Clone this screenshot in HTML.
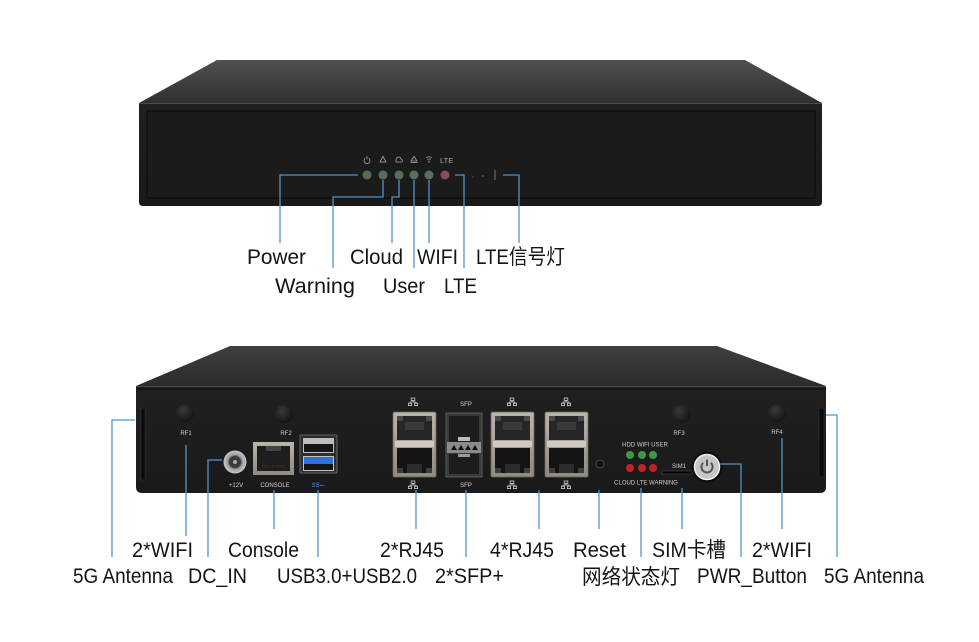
<!DOCTYPE html>
<html><head><meta charset="utf-8"><style>
html,body{margin:0;padding:0;background:#fff;}
svg{display:block;}
</style></head><body>
<svg width="979" height="642" viewBox="0 0 979 642" xmlns="http://www.w3.org/2000/svg">
<defs>
  <linearGradient id="topA" x1="0" y1="0" x2="0" y2="1">
    <stop offset="0" stop-color="#515151"/><stop offset="1" stop-color="#2f2f2f"/>
  </linearGradient>
  <linearGradient id="topB" x1="0" y1="0" x2="0" y2="1">
    <stop offset="0" stop-color="#3f3f3f"/><stop offset="1" stop-color="#2b2b2b"/>
  </linearGradient>
  <linearGradient id="face" x1="0" y1="0" x2="0" y2="1">
    <stop offset="0" stop-color="#202020"/><stop offset="1" stop-color="#1a1a1a"/>
  </linearGradient>
  <linearGradient id="silver" x1="0" y1="0" x2="0" y2="1">
    <stop offset="0" stop-color="#b9b5ad"/><stop offset="1" stop-color="#8f8b84"/>
  </linearGradient>
  <radialGradient id="knob" cx="0.4" cy="0.35" r="0.7">
    <stop offset="0" stop-color="#3a3a3a"/><stop offset="1" stop-color="#121212"/>
  </radialGradient>
  <radialGradient id="dc" cx="0.5" cy="0.5" r="0.5">
    <stop offset="0" stop-color="#555"/><stop offset="0.6" stop-color="#9a9a9a"/><stop offset="1" stop-color="#c8c8c8"/>
  </radialGradient>
  <g id="net">
    <rect x="-1.8" y="-4" width="3.6" height="2.4" fill="none" stroke="#cfcfcf" stroke-width="0.8"/>
    <path d="M0,-1.6 V0 M-3,0 H3 M-3,0 V1.2 M3,0 V1.2" stroke="#cfcfcf" stroke-width="0.8" fill="none"/>
    <rect x="-4.6" y="1.2" width="3.2" height="2.4" fill="none" stroke="#cfcfcf" stroke-width="0.8"/>
    <rect x="1.4" y="1.2" width="3.2" height="2.4" fill="none" stroke="#cfcfcf" stroke-width="0.8"/>
  </g>
  <g id="rj">
    <rect x="0" y="0" width="43" height="65" rx="1.5" fill="url(#silver)"/>
    <rect x="0" y="0" width="43" height="65" rx="1.5" fill="none" stroke="#6b675f" stroke-width="0.8"/>
    <rect x="4" y="4" width="35" height="24" fill="#262626"/>
    <rect x="4" y="4" width="6" height="5" fill="#4a4a4a"/>
    <rect x="33" y="4" width="6" height="5" fill="#4a4a4a"/>
    <rect x="12" y="10" width="19" height="8" fill="#3a3a3a"/>
    <rect x="2" y="29" width="39" height="6" fill="#cfcbc3"/>
    <rect x="4" y="36" width="35" height="25" fill="#141414"/>
    <rect x="14" y="52" width="15" height="9" fill="#2c2c2c"/>
    <rect x="4" y="56" width="6" height="5" fill="#3d3d3d"/>
    <rect x="33" y="56" width="6" height="5" fill="#3d3d3d"/>
  </g>
</defs>

<rect width="979" height="642" fill="#fff"/>

<!-- ============ TOP DEVICE ============ -->
<polygon points="217,60 745,60 822,103 139,103" fill="url(#topA)"/>
<path d="M139,103 H822 V202 Q822,206 818,206 H143 Q139,206 139,202 Z" fill="url(#face)"/>
<line x1="139" y1="103.5" x2="822" y2="103.5" stroke="#4a4a4a" stroke-width="1"/>
<rect x="147" y="111" width="668" height="87" fill="#1b1b1b" stroke="#0c0c0c" stroke-width="1.2"/>

<!-- LED icons -->
<g stroke="#a8a8a8" stroke-width="0.8" fill="none">
  <path d="M365.3,158.2 A3,3 0 1 0 368.7,158.2"/>
  <line x1="367" y1="156" x2="367" y2="159.5"/>
  <path d="M383,156.5 L380,162 H386 Z"/>
  <path d="M396,162 H402 Q403,159.5 401,159 Q400,156 397.5,157.5 Q395.5,158.5 396,162 Z"/>
  <path d="M414,156.5 L411,161 H417 Z"/>
  <line x1="410.5" y1="162.5" x2="417.5" y2="162.5"/>
  <path d="M426,158 Q429,155.5 432,158 M427.2,159.6 Q429,158.2 430.8,159.6"/>
  <line x1="429" y1="160.5" x2="429" y2="163"/>
</g>
<text x="440" y="163" font-family="Liberation Sans, sans-serif" font-size="7.5" fill="#a8a8a8">LTE</text>

<!-- LEDs -->
<g>
  <circle cx="367" cy="175" r="4.5" fill="#566a58"/>
  <circle cx="383" cy="175" r="4.5" fill="#5a6e5c"/>
  <circle cx="399" cy="175" r="4.5" fill="#5a6e5c"/>
  <circle cx="414" cy="175" r="4.5" fill="#5a6e5c"/>
  <circle cx="429" cy="175" r="4.5" fill="#5a6e5c"/>
  <circle cx="445" cy="175" r="4.5" fill="#8a4c55"/>
  <circle cx="473" cy="177" r="0.8" fill="#555"/>
  <circle cx="483" cy="176" r="0.9" fill="#666"/>
  <line x1="495" y1="170" x2="495" y2="180" stroke="#777" stroke-width="1"/>
</g>

<!-- top connectors -->
<g stroke="#4b95cc" stroke-width="1.3" fill="none">
  <path d="M358,175 H280 V243"/>
  <path d="M383,180 V197 H333 V268"/>
  <path d="M399,180 V197 H392 V243"/>
  <path d="M414,180 V268"/>
  <path d="M429,180 V243"/>
  <path d="M455,175 H464 V268"/>
  <path d="M503,175 H519 V243"/>
</g>

<!-- top labels -->
<g font-family="Liberation Sans, 'Noto Sans CJK SC', sans-serif" font-size="21" fill="#141414" lengthAdjust="spacingAndGlyphs">
  <text x="247" y="264" textLength="59" lengthAdjust="spacingAndGlyphs">Power</text>
  <text x="350" y="264" textLength="53" lengthAdjust="spacingAndGlyphs">Cloud</text>
  <text x="417" y="264" textLength="41" lengthAdjust="spacingAndGlyphs">WIFI</text>
  <text x="476" y="264" textLength="89" lengthAdjust="spacingAndGlyphs">LTE信号灯</text>
  <text x="275" y="293" textLength="80" lengthAdjust="spacingAndGlyphs">Warning</text>
  <text x="383" y="293" textLength="42" lengthAdjust="spacingAndGlyphs">User</text>
  <text x="444" y="293" textLength="33" lengthAdjust="spacingAndGlyphs">LTE</text>
</g>

<!-- ============ BOTTOM DEVICE ============ -->
<polygon points="230,346 717,346 826,386 136,386" fill="url(#topB)"/>
<path d="M136,386 H826 V487 Q826,493 820,493 H142 Q136,493 136,487 Z" fill="url(#face)"/>
<line x1="136" y1="386.5" x2="826" y2="386.5" stroke="#474747" stroke-width="1"/>
<line x1="136" y1="389" x2="826" y2="389" stroke="#111" stroke-width="1"/>

<!-- side slots -->
<rect x="141" y="408" width="4" height="72" fill="#0b0b0b" stroke="#333" stroke-width="0.6"/>
<rect x="819" y="408" width="5" height="69" fill="#0b0b0b" stroke="#333" stroke-width="0.6"/>

<!-- RF knobs -->
<circle cx="185" cy="413" r="9" fill="url(#knob)"/>
<circle cx="284" cy="414" r="9" fill="url(#knob)"/>
<circle cx="681" cy="414" r="9" fill="url(#knob)"/>
<circle cx="777" cy="413" r="9" fill="url(#knob)"/>
<g font-family="Liberation Sans, sans-serif" font-size="6" fill="#cfcfcf" text-anchor="middle">
  <text x="186" y="435">RF1</text>
  <text x="286" y="435">RF2</text>
  <text x="679" y="435">RF3</text>
  <text x="777" y="434">RF4</text>
  <text x="236" y="487">+12V</text>
  <text x="275" y="487">CONSOLE</text>
  <text x="466" y="406">SFP</text>
  <text x="466" y="487">SFP</text>
  <text x="645" y="446.5">HDD  WIFI  USER</text>
  <text x="646" y="484.5">CLOUD  LTE  WARNING</text>
  <text x="679" y="468">SIM1</text>
</g>
<text x="318" y="487" font-family="Liberation Sans, sans-serif" font-size="6" font-style="italic" font-weight="bold" fill="#3b74d0" text-anchor="middle">SS⭠</text>

<!-- DC jack -->
<circle cx="235" cy="462" r="11.5" fill="url(#dc)"/>
<circle cx="235" cy="462" r="6.5" fill="#3a3a3a" stroke="#777" stroke-width="1"/>
<circle cx="235" cy="462" r="2" fill="#aaa"/>

<!-- console -->
<rect x="253" y="442" width="41" height="33" fill="url(#silver)"/>
<rect x="257" y="446" width="33" height="25" fill="#1e1e1e"/>
<rect x="266" y="446" width="15" height="5" fill="#444"/>
<line x1="262" y1="466" x2="285" y2="466" stroke="#a44" stroke-width="0.8" stroke-dasharray="1,1.5"/>

<!-- USB -->
<rect x="300" y="435" width="37" height="38" rx="1" fill="#2e2e2e" stroke="#777" stroke-width="0.8"/>
<rect x="303" y="438" width="31" height="15" fill="#bdbdbd"/>
<rect x="304" y="444" width="29" height="8" fill="#151515"/>
<rect x="303" y="456" width="31" height="15" fill="#c2c2c2"/>
<rect x="304" y="457" width="29" height="7" fill="#2f6fd6"/>
<rect x="304" y="464" width="29" height="6" fill="#151515"/>

<!-- RJ45 stacks -->
<use href="#rj" x="393" y="412"/>
<use href="#rj" x="491" y="412"/>
<use href="#rj" x="545" y="412"/>
<use href="#net" x="413" y="402"/>
<use href="#net" x="413" y="485"/>
<use href="#net" x="512" y="402"/>
<use href="#net" x="512" y="485"/>
<use href="#net" x="566" y="402"/>
<use href="#net" x="566" y="485"/>

<!-- SFP -->
<rect x="446" y="413" width="36" height="64" fill="#3a3a3a" stroke="#666" stroke-width="0.8"/>
<rect x="449" y="416" width="30" height="26" fill="#1c1c1c"/>
<rect x="449" y="454" width="30" height="20" fill="#1c1c1c"/>
<rect x="447" y="442" width="34" height="11" fill="#8a8a8a"/>
<g fill="#111">
  <polygon points="451,450 454,445 457,450"/>
  <polygon points="458,450 461,445 464,450"/>
  <polygon points="465,450 468,445 471,450"/>
  <polygon points="472,450 475,445 478,450"/>
</g>
<rect x="458" y="437" width="12" height="4" fill="#bbb"/>
<rect x="458" y="454" width="12" height="3" fill="#999"/>

<!-- reset -->
<circle cx="600" cy="464" r="4" fill="#111" stroke="#555" stroke-width="0.8"/>

<!-- status LEDs -->
<circle cx="630" cy="455" r="4" fill="#3f9a3f"/>
<circle cx="642" cy="455" r="4" fill="#3f9a3f"/>
<circle cx="653" cy="455" r="4" fill="#3f9a3f"/>
<circle cx="630" cy="468" r="4" fill="#c42222"/>
<circle cx="642" cy="468" r="4" fill="#c42222"/>
<circle cx="653" cy="468" r="4" fill="#c42222"/>

<!-- SIM slot -->
<rect x="662" y="471" width="30" height="3" fill="#050505" stroke="#555" stroke-width="0.5"/>

<!-- power button -->
<circle cx="707" cy="467" r="15.5" fill="#0e0e0e"/>
<circle cx="707" cy="467" r="12.5" fill="#c6c6c6" stroke="#eeeeee" stroke-width="1.5"/>
<path d="M703.2,462.8 A5.6,5.6 0 1 0 710.8,462.8" stroke="#555" stroke-width="2" fill="none"/>
<line x1="707" y1="459.5" x2="707" y2="466" stroke="#555" stroke-width="2"/>

<!-- bottom connectors -->
<g stroke="#4b95cc" stroke-width="1.3" fill="none">
  <path d="M135,420 H112 V557"/>
  <path d="M186,445 V536"/>
  <path d="M222,460 H208 V557"/>
  <path d="M274,490 V529"/>
  <path d="M318,490 V557"/>
  <path d="M416,490 V529"/>
  <path d="M466,490 V557"/>
  <path d="M539,490 V529"/>
  <path d="M599,490 V529"/>
  <path d="M641,488 V557"/>
  <path d="M682,488 V529"/>
  <path d="M720,464 H741 V557"/>
  <path d="M782,438 V529"/>
  <path d="M826,415 H837 V557"/>
</g>

<!-- bottom labels -->
<g font-family="Liberation Sans, 'Noto Sans CJK SC', sans-serif" font-size="21" fill="#141414">
  <text x="132" y="557" textLength="61" lengthAdjust="spacingAndGlyphs">2*WIFI</text>
  <text x="228" y="557" textLength="71" lengthAdjust="spacingAndGlyphs">Console</text>
  <text x="380" y="557" textLength="64" lengthAdjust="spacingAndGlyphs">2*RJ45</text>
  <text x="490" y="557" textLength="64" lengthAdjust="spacingAndGlyphs">4*RJ45</text>
  <text x="573" y="557" textLength="53" lengthAdjust="spacingAndGlyphs">Reset</text>
  <text x="652" y="557" textLength="74" lengthAdjust="spacingAndGlyphs">SIM卡槽</text>
  <text x="752" y="557" textLength="60" lengthAdjust="spacingAndGlyphs">2*WIFI</text>

  <text x="73" y="583" textLength="100" lengthAdjust="spacingAndGlyphs">5G Antenna</text>
  <text x="188" y="583" textLength="59" lengthAdjust="spacingAndGlyphs">DC_IN</text>
  <text x="277" y="583" textLength="140" lengthAdjust="spacingAndGlyphs">USB3.0+USB2.0</text>
  <text x="435" y="583" textLength="69" lengthAdjust="spacingAndGlyphs">2*SFP+</text>
  <text x="582" y="584" textLength="98" lengthAdjust="spacingAndGlyphs">网络状态灯</text>
  <text x="697" y="583" textLength="110" lengthAdjust="spacingAndGlyphs">PWR_Button</text>
  <text x="824" y="583" textLength="100" lengthAdjust="spacingAndGlyphs">5G Antenna</text>
</g>
</svg>
</body></html>
